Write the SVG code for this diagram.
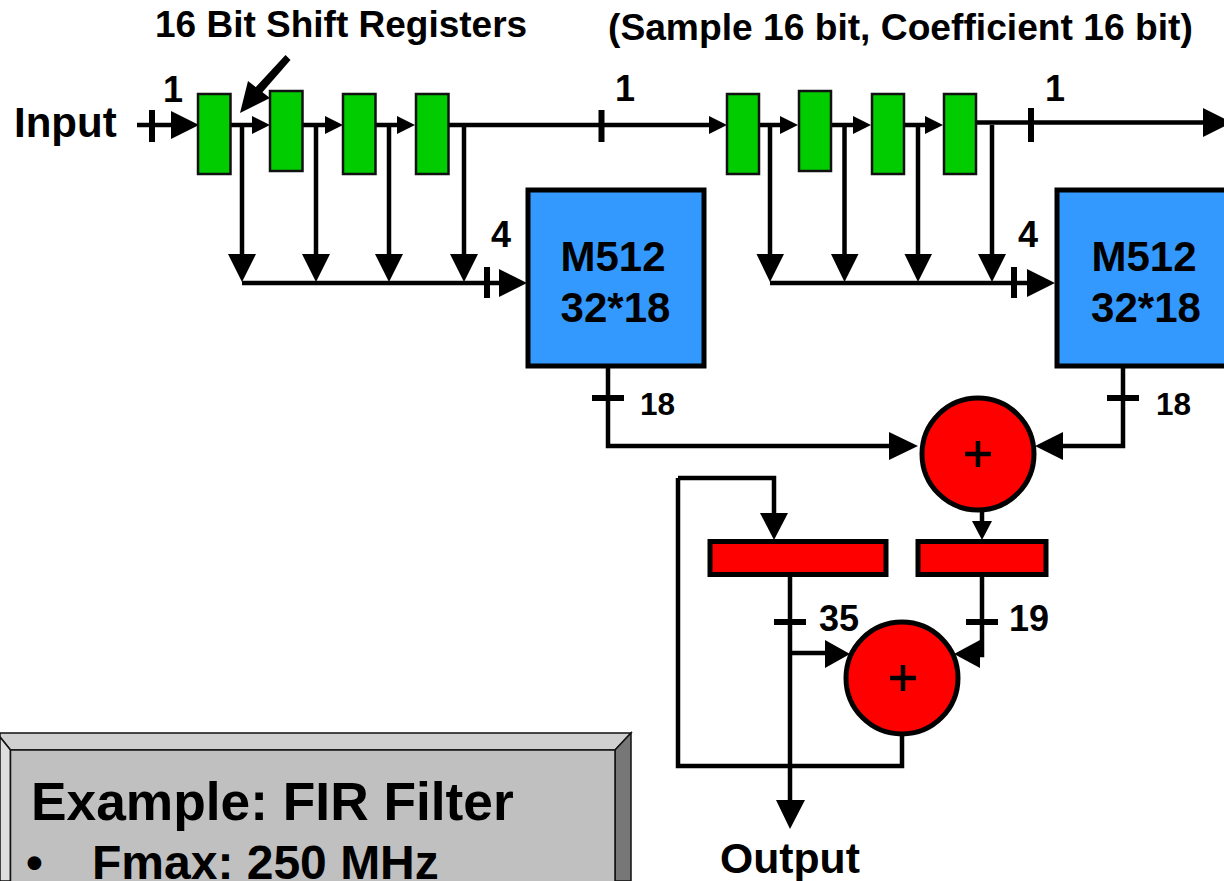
<svg xmlns="http://www.w3.org/2000/svg" width="1224" height="881" viewBox="0 0 1224 881">
<style>
text{font-family:"Liberation Sans",Arial,sans-serif;font-weight:700;fill:#000}
.w{fill:none;stroke:#000;stroke-width:4.5}
.t{fill:none;stroke:#000;stroke-width:6}
.g{fill:#00cc00;stroke:#111;stroke-width:2.5}
.b{fill:#3399ff;stroke:#000;stroke-width:5}
.r{fill:#ff0000;stroke:#000;stroke-width:5}
.l{font-size:37px}
.n{font-size:36px}
.m{font-size:42px;text-anchor:middle}
.s{font-size:31.5px}
.a{fill:#000}
</style>
<rect width="1224" height="881" fill="#fff"/>
<g id="connectors">
<path class="w" d="M137 125H175"/><path class="t" d="M152 110V142"/>
<path class="a" d="M171 111L199 125L171 139Z"/>
<path class="w" d="M230 125H254M302 125H327M375 125H399M448 125H711"/>
<path class="a" d="M252 116L270 125L252 134Z M325 116L343 125L325 134Z M397 116L415 125L397 134Z"/>
<path class="t" d="M601.500 110V142M1031 108V142"/>
<path class="a" d="M709 116L727 125L709 134Z M1203 108L1232 122.500L1203 137Z"/>
<path class="w" d="M759 125H782M831 125H855M904 125H927M976 122.500H1206"/>
<path class="a" d="M780 116L798 125L780 134Z M853 116L871 125L853 134Z M925 116L943 125L925 134Z"/>
<path class="w" d="M242 125V258M316 125V258M389 125V258M464 125V258M242 283H502"/>
<path class="t" d="M487 267V298"/>
<path class="a" d="M228 254H256L242 282Z M302 254H330L316 282Z M375 254H403L389 282Z M450 254H478L464 282Z M499 269L527 283L499 297Z"/>
<path class="w" d="M770 125V258M844.500 125V258M918 125V258M992 125V258M770 283H1030"/>
<path class="t" d="M1014 267V298"/>
<path class="a" d="M756.500 254H784L770 282Z M831 254H858.500L844.500 282Z M904.500 254H932L918 282Z M978 254H1006L992 282Z M1027 269L1055 283L1027 297Z"/>
<path class="a" d="M285.500 55L254 89L260 95L290.500 60Z"/>
<path class="a" d="M240 113L248 81L270 98Z"/>
<path class="w" d="M608 366V446H892"/><path class="t" d="M592 398H624"/>
<path class="a" d="M889 432L918 446L889 460Z M1063 432L1035 446L1063 460Z"/>
<path class="w" d="M1123 366V446H1058"/><path class="t" d="M1107 398H1139"/>
<path class="w" d="M982 510V525"/>
<path class="a" d="M972 521H992L982 540Z"/>
<path class="w" d="M678 478H774V515M678 478V766H902V735"/>
<path class="a" d="M760 513H788L774 540Z"/>
<path class="w" d="M790 575V805M790 653H830"/>
<path class="t" d="M774 622H806"/>
<path class="a" d="M825 640L850 654L825 668Z M776 800H805L790 829Z"/>
<path class="w" d="M982 575V655H976"/>
<path class="t" d="M966 622H998"/>
<path class="a" d="M980 640L954 654L980 668Z"/>
</g>
<g id="reg-1"><rect class="g" x="198" y="94" width="32.500" height="80"/></g>
<g id="reg-2"><rect class="g" x="270" y="91" width="32.500" height="80"/></g>
<g id="reg-3"><rect class="g" x="343" y="94" width="32.500" height="80"/></g>
<g id="reg-4"><rect class="g" x="416" y="94" width="32.500" height="80"/></g>
<g id="reg-5"><rect class="g" x="727" y="94" width="32" height="80"/></g>
<g id="reg-6"><rect class="g" x="799" y="91" width="32" height="80"/></g>
<g id="reg-7"><rect class="g" x="872" y="94" width="32" height="80"/></g>
<g id="reg-8"><rect class="g" x="944" y="94" width="32" height="80"/></g>
<g id="m512-1"><rect class="b" x="528" y="190" width="176" height="176"/><text class="m" x="613" y="271">M512</text><text class="m" x="615.500" y="322">32*18</text></g>
<g id="m512-2"><rect class="b" x="1057" y="190" width="176" height="176"/><text class="m" x="1144" y="271">M512</text><text class="m" x="1146" y="322">32*18</text></g>
<g id="adder-1"><circle class="r" cx="978" cy="454" r="56"/><path class="w" d="M978 441V467M965 454H991"/></g>
<g id="adder-2"><circle class="r" cx="902" cy="678" r="56"/><path class="w" d="M903 665V691M890 678H916"/></g>
<g id="acc-1"><rect class="r" x="710" y="541.500" width="176" height="33"/></g>
<g id="acc-2"><rect class="r" x="918" y="541.500" width="128" height="33"/></g>
<g id="panel">
<path d="M0 733H631L615 750H10.500L0 737Z" fill="#d0d0d0" stroke="#111" stroke-width="1.500"/>
<path d="M0 737L10.500 750V881H0Z" fill="#dedede" stroke="#111" stroke-width="1.500"/>
<path d="M631 733V881H615V750Z" fill="#777" stroke="#111" stroke-width="1.500"/>
<rect x="10.500" y="750" width="604.500" height="132" fill="#c0c0c0" stroke="#111" stroke-width="1.500"/>
<text x="31" y="820" font-size="53.300">Example: FIR Filter</text>
<text x="26" y="879" font-size="48">•</text>
<text x="92" y="879" font-size="48">Fmax: 250 MHz</text>
</g>
<g id="labels">
<text x="155" y="37" class="l">16 Bit Shift Registers</text>
<text x="608" y="40" font-size="37.200">(Sample 16 bit, Coefficient 16 bit)</text>
<text x="14" y="137" font-size="42">Input</text>
<text x="163" y="102" class="n">1</text>
<text x="615" y="101" class="n">1</text>
<text x="1045" y="101" class="n">1</text>
<text x="491" y="247" class="n">4</text>
<text x="1018" y="247" class="n">4</text>
<text x="640" y="415" class="s">18</text>
<text x="1156" y="415" class="s">18</text>
<text x="819" y="631" class="n">35</text>
<text x="1009" y="631" class="n">19</text>
<text x="720" y="873" font-size="42.700">Output</text>
</g>
</svg>
